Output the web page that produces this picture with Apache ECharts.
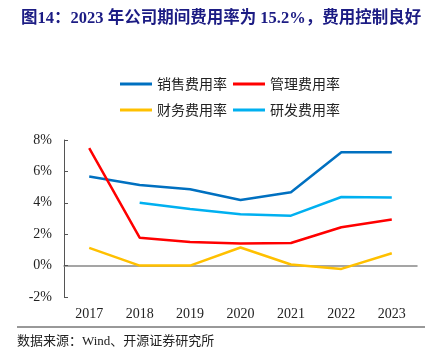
<!DOCTYPE html>
<html><head><meta charset="utf-8">
<script src="https://cdn.jsdelivr.net/npm/echarts@6/dist/echarts.min.js"></script>
<style>html,body{margin:0;padding:0;background:#fff}#c{width:441px;height:362px}</style>
</head><body><div id="c"></div>
<script>
var categories = ['2017','2018','2019','2020','2021','2022','2023'];
var salesRate = [5.67, 5.14, 4.86, 4.18, 4.67, 7.22, 7.22];
var adminRate = [7.48, 1.78, 1.51, 1.40, 1.44, 2.44, 2.93];
var financeRate = [1.13, 0.00, 0.00, 1.15, 0.07, -0.21, 0.79];
var rdRate = [null, 4.01, 3.61, 3.27, 3.18, 4.37, 4.33];
var seriesNames = ['销售费用率','管理费用率','财务费用率','研发费用率'];
var yTicks = {min: -2, max: 8, interval: 2};

var chart = echarts.init(document.getElementById('c'), null, {renderer:'canvas'});
var cjk = '"Noto Sans CJK SC", sans-serif';
var serif = '"Liberation Serif", "Noto Sans CJK SC", serif';
function mk(name, data, color){
  return {name:name, type:'line', data:data, symbol:'none', connectNulls:false,
    lineStyle:{color:color, width:2.5}, itemStyle:{color:color}};
}
chart.setOption({
  animation:false,
  title:{text:'图14：2023 年公司期间费用率为 15.2%，费用控制良好', left:16, top:5,
    textStyle:{fontFamily:serif, fontWeight:'bold', fontSize:16.5, color:'#1c1c84'}},
  legend:[
    {data:[seriesNames[0],seriesNames[1]], left:120, top:77, padding:0, itemWidth:32, itemHeight:3, itemGap:6,
      icon:'rect', textStyle:{fontFamily:cjk, fontSize:14, color:'#222'}},
    {data:[seriesNames[2],seriesNames[3]], left:120, top:103, padding:0, itemWidth:32, itemHeight:3, itemGap:6,
      icon:'rect', textStyle:{fontFamily:cjk, fontSize:14, color:'#222'}}
  ],
  grid:{left:64, right:24, top:140, bottom:65, containLabel:false},
  xAxis:{type:'category', data:categories, boundaryGap:true,
    axisLine:{onZero:true, lineStyle:{color:'#888', width:1.5}},
    axisTick:{inside:true, length:4, lineStyle:{color:'#888'}},
    axisLabel:{fontFamily:serif, fontSize:14, color:'#222', margin:10}},
  yAxis:{type:'value', min:yTicks.min, max:yTicks.max, interval:yTicks.interval,
    splitLine:{show:false},
    axisLine:{show:true, lineStyle:{color:'#555', width:1}},
    axisTick:{show:true, inside:true, length:4, lineStyle:{color:'#555'}},
    axisLabel:{formatter:'{value}%', fontFamily:serif, fontSize:14, color:'#222', margin:12}},
  series:[
    mk(seriesNames[0], salesRate, '#0070C0'),
    mk(seriesNames[1], adminRate, '#FF0000'),
    mk(seriesNames[2], financeRate, '#FFC000'),
    mk(seriesNames[3], rdRate, '#00B0F0')
  ],
  graphic:[
    {type:'line', shape:{x1:17, y1:327, x2:425, y2:327}, style:{stroke:'#333', lineWidth:1}},
    {type:'text', left:17, top:335, style:{text:'数据来源：Wind、开源证券研究所', font:'13px "Liberation Serif", "Noto Sans CJK SC", serif', fill:'#222'}}
  ]
});
</script></body></html>
